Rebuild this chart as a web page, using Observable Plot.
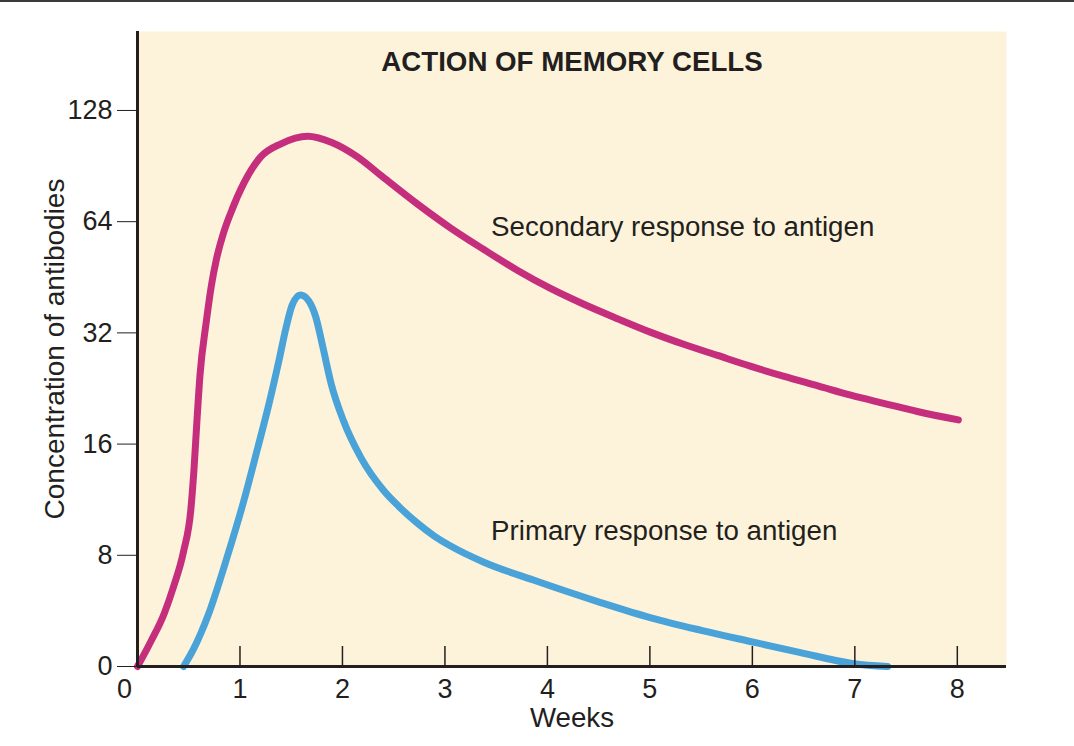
<!DOCTYPE html>
<html>
<head>
<meta charset="utf-8">
<script src="https://cdn.jsdelivr.net/npm/d3@7"></script>
<script src="https://cdn.jsdelivr.net/npm/@observablehq/plot@0.6"></script>
<style>
  body { margin: 0; background: #ffffff; }
  #wrap { position: relative; width: 1074px; height: 746px; overflow: hidden; }
  #topline { position: absolute; left: 0; top: 0; width: 1074px; height: 2px; background: #3a3a3a; }
</style>
</head>
<body>
<div id="wrap"><div id="topline"></div></div>
<script>
// ---- data (weeks, antibody concentration) ----
const secondaryWeeks = [0, 0.13, 0.26, 0.35, 0.45, 0.52, 0.55, 0.58, 0.61, 0.67, 0.72, 0.77, 0.84, 0.91, 1.04, 1.20, 1.40, 1.66, 1.89, 2.15, 2.37, 2.73, 3.06, 3.38, 3.71, 4.03, 4.35, 4.69, 5.01, 5.33, 5.66, 5.98, 6.31, 6.64, 6.96, 7.29, 7.61, 8.01];
const secondaryConc  = [0, 1.8, 3.8, 5.7, 8.2, 10.6, 13.5, 18.5, 24.6, 34.1, 42.8, 50.6, 59.7, 67.6, 81.6, 95.7, 104, 109, 105, 95.7, 85.6, 71.5, 61.4, 53.8, 47.2, 42.2, 38.3, 34.9, 32.1, 29.8, 27.8, 26.0, 24.4, 23.0, 21.7, 20.6, 19.6, 18.6];

const primaryWeeks = [0.45, 0.55, 0.69, 0.88, 1.04, 1.17, 1.28, 1.38, 1.45, 1.51, 1.59, 1.67, 1.74, 1.81, 1.89, 2.01, 2.18, 2.40, 2.55, 2.73, 2.90, 3.06, 3.38, 3.87, 4.52, 5.01, 5.50, 5.98, 6.47, 6.99, 7.32];
const primaryConc  = [0, 1.3, 3.7, 8.0, 11.3, 15.5, 20.4, 26.9, 33.1, 38.1, 40.5, 39.1, 35.3, 29.2, 23.3, 18.5, 14.7, 12.0, 10.85, 9.78, 9.0, 8.46, 7.5, 6.2, 4.6, 3.5, 2.6, 1.8, 1.0, 0.2, 0];

const yTickValues = [0, 8, 16, 32, 64, 128];
const yTickLabels = ["0", "8", "16", "32", "64", "128"];
const xTickValues = [1, 2, 3, 4, 5, 6, 7, 8];
const xZeroLabel = [0];

const titleText = "ACTION OF MEMORY CELLS";
const xLabel = "Weeks";
const yLabel = "Concentration of antibodies";
const annotationText = ["Secondary response to antigen", "Primary response to antigen"];
const annotationWeek = [3.45, 3.45];
const annotationConc = [62, 9.3];

// ---- axis mapping: linear from 0 to 8, then doubling per step ----
const toLevel = v => v <= 8 ? v / 8 : Math.log2(v) - 2;

const secondary = secondaryWeeks.map((w, i) => ({week: w, level: toLevel(secondaryConc[i])}));
const primary = primaryWeeks.map((w, i) => ({week: w, level: toLevel(primaryConc[i])}));
const annotations = annotationText.map((t, i) => ({label: t, week: annotationWeek[i], level: toLevel(annotationConc[i])}));
const yLevels = yTickValues.map(toLevel);
const yFmt = d => yTickLabels[yLevels.indexOf(d)];

const ink = "#231f20";
const magenta = "#c42e7d";
const blue = "#4aa3d8";
const beige = "#fdf3da";

const chart = Plot.plot({
  width: 1074,
  height: 746,
  marginLeft: 137,
  marginRight: 68,
  marginTop: 31,
  marginBottom: 80,
  style: {fontFamily: "'Liberation Sans', Arial, Helvetica, sans-serif", fontSize: "27px", color: ink, background: "transparent", overflow: "visible"},
  x: {domain: [0, 8.48]},
  y: {domain: [0, 5.71]},
  marks: [
    Plot.frame({fill: beige, stroke: null}),
    Plot.line(secondary, {x: "week", y: "level", stroke: magenta, strokeWidth: 7, curve: "monotone-x"}),
    Plot.line(primary, {x: "week", y: "level", stroke: blue, strokeWidth: 7, curve: "monotone-x"}),
    Plot.axisY(yLevels, {tickSize: 20, tickPadding: 5, tickFormat: yFmt, label: null, stroke: ink, fill: ink, fontSize: 27}),
    Plot.axisX(xTickValues, {tickSize: -20, fill: "none", label: null, stroke: ink, strokeWidth: 1.5}),
    Plot.axisX(xTickValues, {tickSize: 0, tickPadding: 12, label: null, fill: ink, fontSize: 27}),
    Plot.axisX(xZeroLabel, {tickSize: 0, tickPadding: 12, label: null, fill: ink, fontSize: 27, dx: -13}),
    Plot.ruleX([0], {stroke: ink, strokeWidth: 3}),
    Plot.ruleY([0], {stroke: ink, strokeWidth: 3}),
    Plot.text([titleText], {frameAnchor: "top", lineAnchor: "middle", dy: 31, fontWeight: "bold", fontSize: 27.7, fill: ink}),
    Plot.text([xLabel], {frameAnchor: "bottom", lineAnchor: "middle", dy: 52, fontSize: 27.7, fill: ink}),
    Plot.text([yLabel], {frameAnchor: "left", textAnchor: "middle", lineAnchor: "middle", rotate: -90, dx: -82, fontSize: 28, fill: ink}),
    Plot.text(annotations, {x: "week", y: "level", text: "label", textAnchor: "start", lineAnchor: "middle", fontSize: 27.7, fill: ink})
  ]
});
document.getElementById("wrap").prepend(chart);
</script>
</body>
</html>
